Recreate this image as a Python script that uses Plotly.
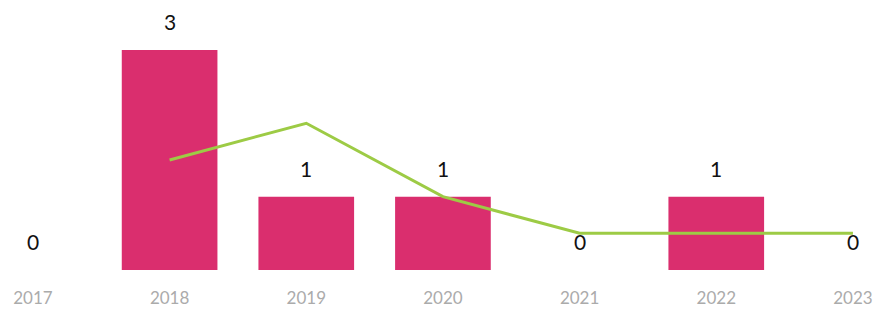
import plotly.graph_objects as go

years = ["2017", "2018", "2019", "2020", "2021", "2022", "2023"]
counts = [0, 3, 1, 1, 0, 1, 0]
trend_years = ["2018", "2019", "2020", "2021", "2022", "2023"]
trend_values = [1.5, 2.0, 1.0, 0.5, 0.5, 0.5]

fig = go.Figure()
fig.add_trace(go.Bar(
    x=years, y=counts, width=0.70,
    marker=dict(color="#DA2E6E", line=dict(width=0)),
    showlegend=False, hoverinfo="skip",
))
fig.add_trace(go.Scatter(
    x=trend_years, y=trend_values, mode="lines",
    line=dict(color="#9DCB45", width=3),
    showlegend=False, hoverinfo="skip",
))

for i, v in enumerate(counts):
    fig.add_annotation(
        x=i, y=v, text=str(v), showarrow=False,
        yanchor="bottom", yshift=14,
        font=dict(family="Lato, Carlito, sans-serif", size=21, color="#111111"),
    )

fig.update_layout(
    width=883, height=313,
    margin=dict(l=0, r=0, t=0, b=43),
    paper_bgcolor="white", plot_bgcolor="white",
    bargap=0.3,
    xaxis=dict(
        type="category", range=[-0.241, 6.22], automargin=False,
        showgrid=False, zeroline=False, showline=False,
        ticks="", ticklabelstandoff=16,
        tickfont=dict(family="Lato, Carlito, sans-serif", size=17, color="#ABABAB"),
    ),
    yaxis=dict(
        range=[0, 3.68], visible=False, showgrid=False, zeroline=False,
    ),
)

fig.write_html(
    "out.html",
    config={"displayModeBar": False},
    post_script="document.body.style.margin='0';document.body.style.padding='0';",
)
